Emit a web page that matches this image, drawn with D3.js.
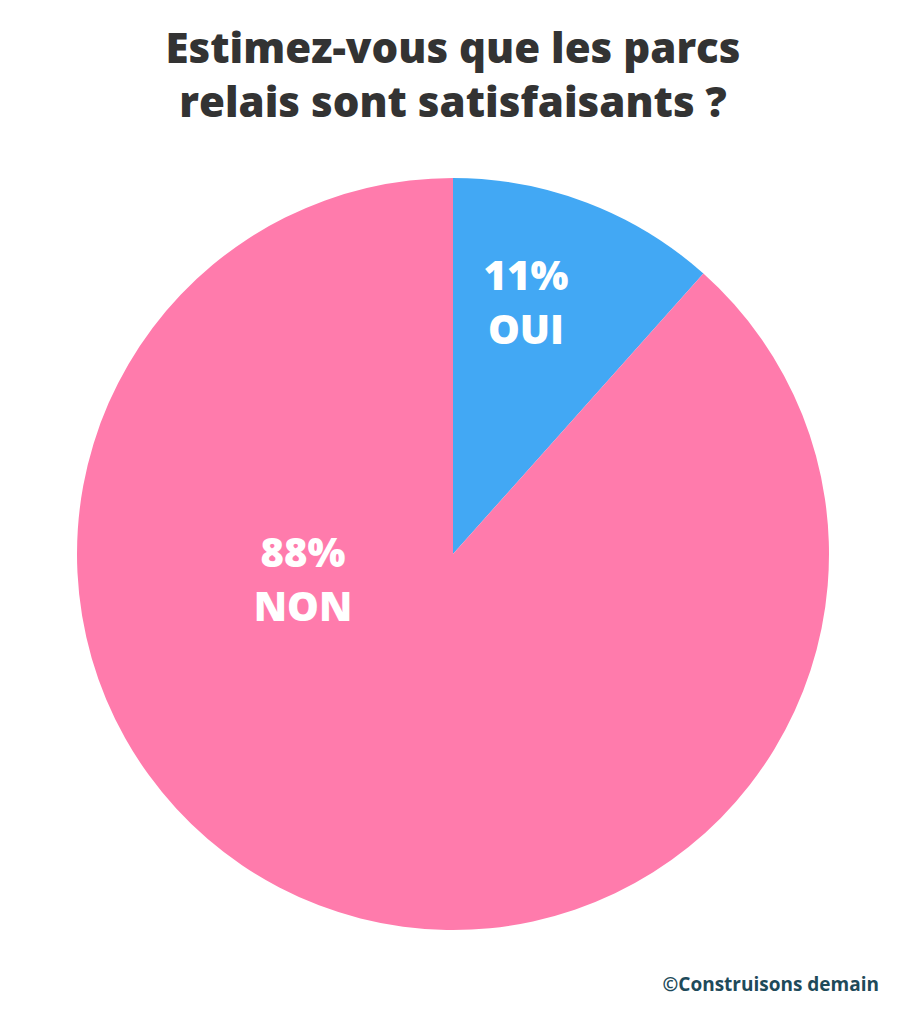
<!DOCTYPE html>
<html>
<head>
<meta charset="utf-8">
<script src="https://cdn.jsdelivr.net/npm/d3@7"></script>
<style>
  html, body { margin: 0; padding: 0; background: #ffffff; }
  svg { display: block; }
</style>
</head>
<body>
<svg id="chart" width="906" height="1024"></svg>
<script>
// ---- data ----
const categories = ["OUI", "NON"];
const values = [11.6, 88.4];
const percentLabels = ["11%", "88%"];
const colors = ["#42A8F4", "#FF7BAC"];
const titleLines = ["Estimez-vous que les parcs", "relais sont satisfaisants ?"];
const credit = "©Construisons demain";

// ---- layout ----
const W = 906, H = 1024;
const cx = 453, cy = 554, R = 376;
const labelOffsets = [[73, -264], [-150, 13]]; // relative to pie centre (percent baseline)
const font = "'Open Sans', Lato, sans-serif";

const svg = d3.select("#chart");

const data = categories.map((c, i) => ({ cat: c, value: values[i], label: percentLabels[i], color: colors[i] }));

const pie = d3.pie().sort(null).value(d => d.value).startAngle(0).endAngle(2 * Math.PI);
const arc = d3.arc().innerRadius(0).outerRadius(R);

const g = svg.append("g").attr("transform", `translate(${cx},${cy})`);
g.selectAll("path")
  .data(pie(data))
  .join("path")
  .attr("d", arc)
  .attr("fill", d => d.data.color);

const lab = g.selectAll("g.lab")
  .data(data)
  .join("g")
  .attr("class", "lab")
  .attr("transform", (d, i) => `translate(${labelOffsets[i][0]},${labelOffsets[i][1]})`);

lab.append("text")
  .attr("text-anchor", "middle")
  .attr("font-family", font)
  .attr("font-weight", 800)
  .attr("font-size", 40)
  .attr("fill", "#ffffff")
  .text(d => d.label);

lab.append("text")
  .attr("text-anchor", "middle")
  .attr("y", 54)
  .attr("font-family", font)
  .attr("font-weight", 800)
  .attr("font-size", 40)
  .attr("fill", "#ffffff")
  .text(d => d.cat);

// title
svg.append("g").selectAll("text")
  .data(titleLines)
  .join("text")
  .attr("x", W / 2)
  .attr("y", (d, i) => 63 + i * 54)
  .attr("text-anchor", "middle")
  .attr("font-family", font)
  .attr("font-weight", 800)
  .attr("font-size", 42)
  .attr("fill", "#333333")
  .text(d => d);

// credit
svg.append("text")
  .attr("x", 879)
  .attr("y", 991)
  .attr("text-anchor", "end")
  .attr("font-family", font)
  .attr("font-weight", 700)
  .attr("font-size", 19)
  .attr("fill", "#1E4A5A")
  .text(credit);
</script>
</body>
</html>
